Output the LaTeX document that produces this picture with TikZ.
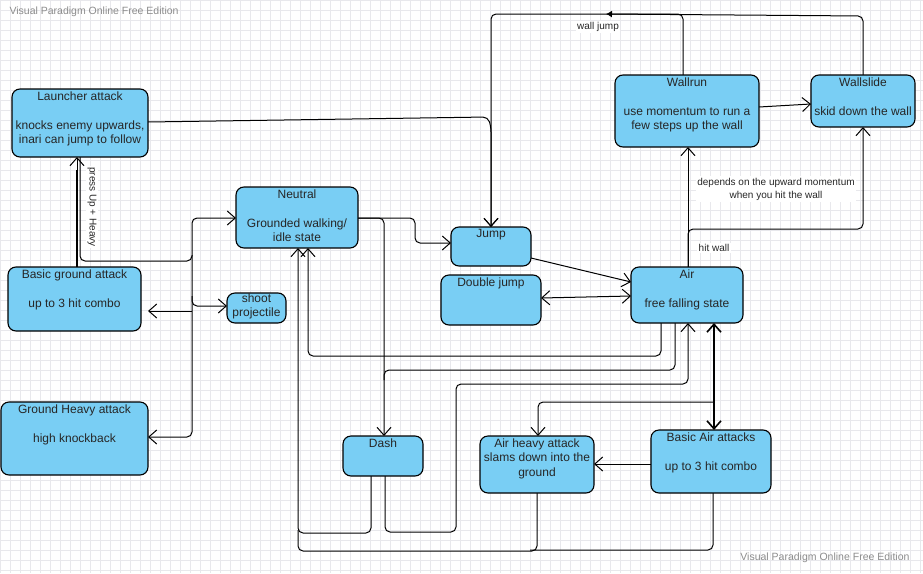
\documentclass[tikz,border=0pt]{standalone}
\usepackage{fontspec}
\setmainfont{Liberation Sans}
\usetikzlibrary{fit,arrows.meta}
\definecolor{boxc}{RGB}{121,206,244}
\definecolor{gridc}{RGB}{232,232,236}
\begin{document}
\begin{tikzpicture}[x=1pt,y=-1pt,
  box/.style={draw=black,line width=1.1pt,fill=boxc,rounded corners=8pt,inner sep=0pt},
  txt/.style={anchor=north,align=center,font=\fontsize{12}{14.5}\selectfont,inner sep=0pt,text=black!85},
  lab/.style={fill=white,align=center,font=\fontsize{10}{13}\selectfont,inner sep=1.5pt,text=black!85},
  ln/.style={line width=1pt,rounded corners=5pt},
  arr/.style={ln,-{Straight Barb[length=8pt,width=14pt]}},
  arrb/.style={ln,{Straight Barb[length=8pt,width=14pt]}-{Straight Barb[length=8pt,width=14pt]}}]
\useasboundingbox (0,0) rectangle (923,573);
\fill[white] (0,0) rectangle (923,573);
\foreach \i in {0,10,...,920} \draw[gridc,line width=0.5pt] (\i,0) -- (\i,573);
\foreach \j in {0,10,...,570} \draw[gridc,line width=0.5pt] (0,\j) -- (923,\j);
\node[anchor=west,text=black!45,font=\fontsize{10.5}{12}\selectfont] (wm1) at (6,12) {Visual Paradigm Online Free Edition};
\node[anchor=east,text=black!45,font=\fontsize{10.5}{12}\selectfont] (wm2) at (913,558) {Visual Paradigm Online Free Edition};
% connectors behind boxes
\draw[arr] (80,157) -- (80,261) -- (192,261) -- (192,218) -- (236,218);
\draw[arr] (192,255) -- (192,437) -- (148,437);
\draw[arr] (192,311) -- (148,311);
\draw[arr] (192,296) -- (192,306) -- (227,306);
\draw[arr] (148,122) -- (488,117) -- (491,127) -- (491,227);
\draw[arr] (683,75) -- (683,14) -- (491,14) -- (491,227);
\draw[ln,-{Latex[length=6pt,width=7pt]}] (863,75) -- (863,16) -- (606,14);
\draw[arr] (358,218) -- (415,218) -- (415,243) -- (451,243);
\draw[arr] (358,218) -- (384,218) -- (384,436);
\draw[arr] (531,258) -- (631,282);
\draw[arrb] (541,298) -- (631,296);
\draw[arr] (661,323) -- (661,356) -- (308,356) -- (308,248);
\draw[ln] (675,323) -- (675,370) -- (384,370) -- (384,380);
\draw[arr] (385,476) -- (385,532) -- (456,532) -- (456,384) -- (688,384) -- (688,323);
\draw[arr] (371,476) -- (371,533) -- (298,533) -- (298,248);
\draw[ln] (537,493) -- (537,551) -- (298,551) -- (298,530);
\draw[ln] (713,493) -- (713,550) -- (530,550);
\draw[arrb,line width=1.6pt] (714,323) -- (714,430);
\draw[arr] (714,402) -- (538,402) -- (538,436);
\draw[arr] (651,464) -- (594,464);
\draw[arr] (688,267) -- (688,147);
\draw[arr] (688,267) -- (688,229) -- (863,229) -- (863,127);
\draw[arr] (759,107) -- (811,104);
\draw[line width=1.6pt] (77,267) -- (77,170);
\draw[arr] (77,170) -- (77,157);
% boxes
\node[box,fit={(12,89)(148,157)}] (launch) {};
\node[txt] (launchT) at ([yshift=-3]launch.north) {Launcher attack\\[14.5pt]knocks enemy upwards,\\inari can jump to follow};
\node[box,fit={(236,187)(358,248)}] (neutral) {};
\node[txt] (neutralT) at ([yshift=-3]neutral.north) {Neutral\\[14.5pt]Grounded walking/\\idle state};
\node[box,fit={(8,267)(141,331)}] (basic) {};
\node[txt] (basicT) at ([yshift=-3]basic.north) {Basic ground attack\\[14.5pt]up to 3 hit combo};
\node[box,fit={(227,293)(286,323)}] (shoot) {};
\node[txt] (shootT) at ([yshift=-1]shoot.north) {shoot\\projectile};
\node[box,fit={(1,402)(148,475)}] (gheavy) {};
\node[txt] (gheavyT) at ([yshift=-3]gheavy.north) {Ground Heavy attack\\[14.5pt]high knockback};
\node[box,fit={(451,227)(531,266)}] (jump) {};
\node[txt] (jumpT) at ([yshift=-3]jump.north) {Jump};
\node[box,fit={(441,275)(541,325)}] (dj) {};
\node[txt] (djT) at ([yshift=-3]dj.north) {Double jump};
\node[box,fit={(631,267)(743,323)}] (air) {};
\node[txt] (airT) at ([yshift=-3]air.north) {Air\\[14.5pt]free falling state};
\node[box,fit={(615,75)(759,147)}] (wallrun) {};
\node[txt] (wallrunT) at ([yshift=-3]wallrun.north) {Wallrun\\[14.5pt]use momentum to run a\\few steps up the wall};
\node[box,fit={(811,75)(915,127)}] (wallslide) {};
\node[txt] (wallslideT) at ([yshift=-3]wallslide.north) {Wallslide\\[14.5pt]skid down the wall};
\node[box,fit={(343,436)(423,476)}] (dash) {};
\node[txt] (dashT) at ([yshift=-3]dash.north) {Dash};
\node[box,fit={(480,436)(594,493)}] (aheavy) {};
\node[txt] (aheavyT) at ([yshift=-3]aheavy.north) {Air heavy attack\\slams down into the\\ground};
\node[box,fit={(651,430)(771,493)}] (bair) {};
\node[txt] (bairT) at ([yshift=-3]bair.north) {Basic Air attacks\\[14.5pt]up to 3 hit combo};
% labels
\node[lab,rotate=-90] (l1) at (92,207) {press Up + Heavy};
\node[lab] (l2) at (598,27) {wall jump};
\node[lab] (l3) at (776,189) {depends on the upward momentum\\when you hit the wall};
\node[lab] (l4) at (714,248) {hit wall};
\end{tikzpicture}
\end{document}
